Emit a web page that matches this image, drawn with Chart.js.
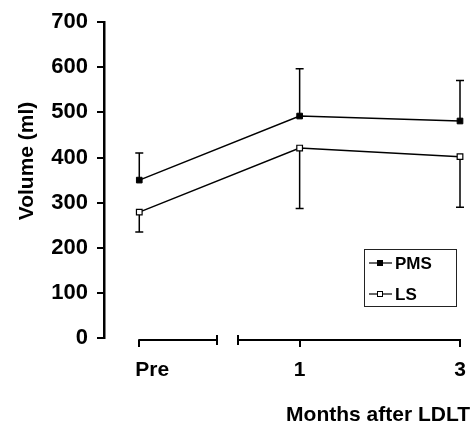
<!DOCTYPE html>
<html><head><meta charset="utf-8">
<script src="https://cdn.jsdelivr.net/npm/chart.js@4.4.0/dist/chart.umd.min.js"></script>
<style>html,body{margin:0;padding:0;background:#fff}#wrap{width:472px;height:425px}</style>
</head><body><div id="wrap"><canvas id="c" width="472" height="425"></canvas></div>
<script>
const categories = ['Pre', '1', '3'];
const seriesNames = ['PMS', 'LS'];
const pmsMean = [350, 492, 481];
const pmsUpper = [410, 597, 571];
const lsMean = [279, 421, 402];
const lsLower = [235, 287, 290];
const yTicks = [0, 100, 200, 300, 400, 500, 600, 700];
const xTitle = 'Months after LDLT';
const yTitle = 'Volume (ml)';

const FONT = '"Liberation Sans", Arial, Helvetica, sans-serif';

const decor = {
  id: 'decor',
  beforeDatasetsDraw(chart) {
    const ctx = chart.ctx, x = chart.scales.x, y = chart.scales.y;
    ctx.save();
    ctx.strokeStyle = '#000';
    ctx.lineWidth = 1.5;
    const bar = (i, v0, v1) => {
      const px = x.getPixelForValue(i);
      const a = y.getPixelForValue(v0), b = y.getPixelForValue(v1);
      ctx.beginPath();
      ctx.moveTo(px, a); ctx.lineTo(px, b);
      ctx.moveTo(px - 4, b); ctx.lineTo(px + 4, b);
      ctx.stroke();
    };
    categories.forEach((c, i) => { bar(i, pmsMean[i], pmsUpper[i]); bar(i, lsMean[i], lsLower[i]); });
    ctx.restore();
  },
  afterDraw(chart) {
    const ctx = chart.ctx, x = chart.scales.x, y = chart.scales.y;
    ctx.save();
    ctx.strokeStyle = '#000';
    ctx.fillStyle = '#000';
    // broken x axis
    const yb = 340;
    const p0 = x.getPixelForValue(0), pb1 = x.getPixelForValue(0.485),
          pb2 = x.getPixelForValue(0.615), p2 = x.getPixelForValue(categories.length - 1);
    ctx.lineWidth = 2;
    ctx.beginPath();
    ctx.moveTo(p0 - 1, yb); ctx.lineTo(pb1, yb);
    ctx.moveTo(pb2, yb); ctx.lineTo(p2 + 1, yb);
    ctx.stroke();
    ctx.beginPath();
    categories.forEach((c, i) => {
      const px = Math.round(x.getPixelForValue(i));
      ctx.moveTo(px, yb); ctx.lineTo(px, yb + 7);
    });
    ctx.moveTo(Math.round(pb1), yb - 5); ctx.lineTo(Math.round(pb1), yb + 5);
    ctx.moveTo(Math.round(pb2), yb - 5); ctx.lineTo(Math.round(pb2), yb + 5);
    ctx.stroke();
    // x tick labels
    ctx.font = 'bold 21px ' + FONT;
    ctx.textBaseline = 'alphabetic';
    categories.forEach((c, i) => {
      const px = x.getPixelForValue(i);
      if (i === 0) { ctx.textAlign = 'left'; ctx.fillText(c, px - 4, 376); }
      else { ctx.textAlign = 'center'; ctx.fillText(c, px, 376); }
    });
    // x title
    ctx.font = 'bold 21px ' + FONT;
    ctx.textAlign = 'right';
    ctx.fillText(xTitle, 470, 421);
    // y title
    ctx.save();
    ctx.translate(33, 161);
    ctx.rotate(-Math.PI / 2);
    ctx.textAlign = 'center';
    ctx.fillText(yTitle, 0, 0);
    ctx.restore();
    // legend
    ctx.lineWidth = 1;
    ctx.strokeStyle = '#222';
    ctx.strokeRect(364.5, 249.5, 92, 57);
    ctx.font = 'bold 17px ' + FONT;
    ctx.textAlign = 'left';
    ctx.textBaseline = 'middle';
    const rows = [263, 294];
    seriesNames.forEach((n, k) => {
      const yy = rows[k];
      ctx.strokeStyle = '#000';
      ctx.lineWidth = 1.2;
      ctx.beginPath(); ctx.moveTo(369, yy); ctx.lineTo(392, yy); ctx.stroke();
      ctx.fillStyle = k === 0 ? '#000' : '#fff';
      ctx.fillRect(377.5, yy - 2.5, 5, 5);
      ctx.lineWidth = 1;
      ctx.strokeRect(377.5, yy - 2.5, 5, 5);
      ctx.fillStyle = '#000';
      ctx.fillText(n, 395, yy + 1);
    });
    ctx.restore();
  }
};

new Chart(document.getElementById('c'), {
  type: 'line',
  data: {
    datasets: [
      {
        label: seriesNames[0],
        data: categories.map((c, i) => ({ x: i, y: pmsMean[i] })),
        borderColor: '#000', borderWidth: 1.5, tension: 0, clip: false,
        pointStyle: 'rect', pointRadius: 4, pointBackgroundColor: '#000',
        pointBorderColor: '#000', pointBorderWidth: 1
      },
      {
        label: seriesNames[1],
        data: categories.map((c, i) => ({ x: i, y: lsMean[i] })),
        borderColor: '#000', borderWidth: 1.5, tension: 0, clip: false,
        pointStyle: 'rect', pointRadius: 4, pointBackgroundColor: '#fff',
        pointBorderColor: '#000', pointBorderWidth: 1.2
      }
    ]
  },
  options: {
    responsive: false,
    animation: false,
    devicePixelRatio: 1,
    layout: { padding: { top: 17, right: 12, left: 0, bottom: 0 } },
    plugins: { legend: { display: false }, tooltip: { enabled: false } },
    scales: {
      x: {
        type: 'linear', min: -0.22, max: categories.length - 1,
        grid: { display: false }, border: { display: false },
        ticks: { display: false },
        afterFit: s => { s.height = 87; }
      },
      y: {
        min: 0, max: 700,
        afterBuildTicks: s => { s.ticks = yTicks.map(v => ({ value: v })); },
        ticks: { color: '#000', padding: 9, font: { family: FONT, size: 22, weight: 'bold' } },
        grid: { drawOnChartArea: false, drawTicks: true, tickLength: 7, color: '#000', lineWidth: 2 },
        border: { display: true, color: '#000', width: 2.5 },
        afterFit: s => { s.width = 104; }
      }
    }
  },
  plugins: [decor]
});
</script>
</body></html>
